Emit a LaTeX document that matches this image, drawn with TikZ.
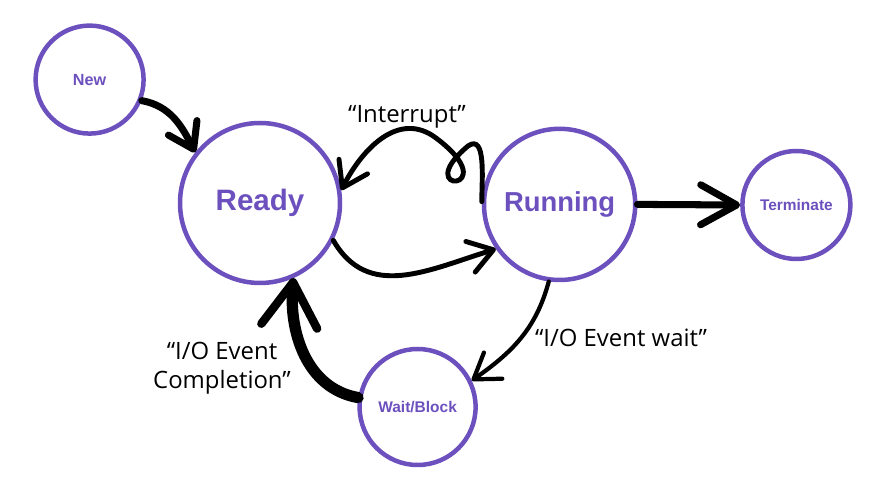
\documentclass[tikz,border=0pt]{standalone}
\usepackage{fontspec}
\setsansfont{Liberation Sans}
\newfontfamily\notefont{Open Sans}
\usetikzlibrary{arrows.meta}
\definecolor{statepurple}{RGB}{108,80,190}
\tikzset{
	state/.style={circle,draw=statepurple,line width=3.2pt,text=statepurple,inner sep=0pt},
	flow/.style={line width=3.5pt,line cap=round,-{Straight Barb[length=6mm,width=8mm,round]}},
	note/.style={font=\notefont\fontsize{17}{21}\selectfont,align=center}
}
\begin{document}
\begin{tikzpicture}
	\useasboundingbox (0,0) rectangle (22.025,12.5);
	% states
	\node[state,minimum size=2.7cm,font=\sffamily\bfseries\fontsize{11.5}{14}\selectfont] (new) at (2.24,10.51) {New};
	\node[state,minimum size=4cm,font=\sffamily\bfseries\fontsize{21}{25}\selectfont] (ready) at (6.5,7.425) {Ready};
	\node[state,minimum size=3.78cm,font=\sffamily\bfseries\fontsize{19.5}{23}\selectfont] (running) at (13.99,7.39) {Running};
	\node[state,minimum size=2.7cm,font=\sffamily\bfseries\fontsize{11}{13}\selectfont] (terminate) at (19.91,7.375) {Terminate};
	\node[state,minimum size=2.9cm,font=\sffamily\bfseries\fontsize{11}{13}\selectfont] (wait) at (10.44,2.325) {Wait/Block};
	% labels
	\node[note] (interrupt) at (10.175,9.58) {“Interrupt”};
	\node[note] (iowait) at (15.525,4.05) {“I/O Event wait”};
	\node[note] (iodone) at (5.55,3.3) {“I/O Event\\Completion”};
	% transitions
	\draw[flow,line width=5pt] (new.-22) to[out=-10,in=117] (ready.142);
	\draw[flow] (ready.-27) to[out=-60,in=197,looseness=1.1] (running.215);
	% interrupt, with the little curl
	\draw[flow] (running.178) to[out=90,in=35] (11.7,8.85) .. controls (10.2,7.6) and (12.7,7.7) .. (10.9,9.05) to[out=143,in=63,looseness=1.1] (ready.9);
	\draw[flow,line width=5pt,-{Straight Barb[length=9mm,width=10mm,round]}] (running.east) -- (terminate.west);
	\draw[flow,line width=3pt] (running.-98) to[out=-105,in=35] (wait.26);
	\draw[flow,line width=8pt,-{Straight Barb[length=11mm,width=14mm,round,line width=6pt]}] (wait.171) to[out=170,in=-95] (ready.-66);
\end{tikzpicture}
\end{document}
